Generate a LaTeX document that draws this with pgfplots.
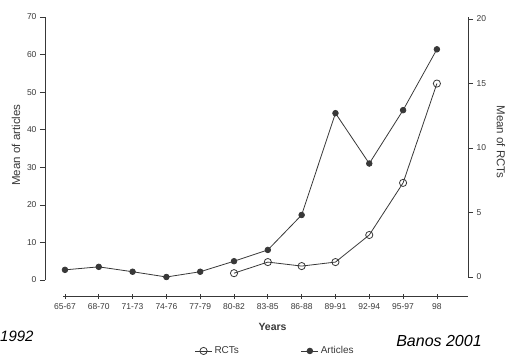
\documentclass[border=0pt]{standalone}
\usepackage{pgfplots}
\usepackage{pgfplotstable}
\pgfplotsset{compat=1.18}
\usepackage{fontspec}
\setmainfont{Liberation Sans}
\definecolor{ink}{gray}{0.22}
\pgfplotstableread{
x art
0 2.7
1 3.5
2 2.2
3 0.8
4 2.2
5 5.0
6 8.0
7 17.3
8 44.4
9 31.0
10 45.2
11 61.4
}\articles
\pgfplotstableread{
x rct
5 0.3
6 1.16
7 0.85
8 1.16
9 3.26
10 7.3
11 15.0
}\rcts
\begin{document}
\begin{tikzpicture}
\pgfplotsset{
  common/.style={
    at={(45pt,63pt)}, anchor=south west,
    scale only axis, width=423pt, height=279pt,
    xmin=-0.59, xmax=11.92,
    /pgf/number format/assume math mode=true,
    tick label style={font=\fontsize{8.5}{10}\selectfont, color=ink},
    label style={font=\fontsize{11.5}{13}\selectfont, color=ink},
    every tick/.style={ink, line width=0.7pt},
    major tick length=5pt,
  }
}
\begin{axis}[common,
  ymin=-4.26, ymax=70,
  axis x line*=bottom, axis y line*=left,
  x axis line style={shorten <=18pt, ink, line width=1pt},
  y axis line style={shorten <=16pt, ink, line width=1pt},
  xtick={0,...,11},
  xticklabels={65-67,68-70,71-73,74-76,77-79,80-82,83-85,86-88,89-91,92-94,95-97,98},
  x tick label style={yshift=-2pt},
  ytick={0,10,...,70},
  ytick align=outside, xtick align=center,
  ylabel={Mean of articles},
  ylabel style={at={(axis description cs:-0.0686,0.541)}, anchor=center, rotate=0},
  xlabel={Years},
  xlabel style={at={(axis description cs:0.538,-0.111)}, anchor=center, font=\fontsize{10.5}{12}\selectfont\bfseries, color=ink},
]
\addplot[ink, line width=0.8pt, mark=*, mark size=2.8pt, mark options={fill=ink}] table[x=x,y=art]{\articles};
\end{axis}
\begin{axis}[common,
  ymin=-1.47, ymax=20.16,
  axis x line=none, axis y line*=right,
  y axis line style={shorten <=19pt, ink, line width=1pt},
  ytick={0,5,...,20},
  ytick align=outside,
  ylabel={Mean of RCTs},
  ylabel style={at={(axis description cs:1.078,0.552)}, anchor=center, rotate=180},
  legend columns=2,
  legend style={draw=none, fill=none, at={(axis description cs:0.544,-0.197)}, anchor=center,
    font=\fontsize{10}{12}\selectfont, text=ink,
    /tikz/every even column/.append style={column sep=60pt}},
  legend cell align=left,
]
\addplot[ink, line width=0.8pt, mark=o, mark size=3.6pt, mark options={fill=white, line width=0.8pt}] table[x=x,y=rct]{\rcts};
\addlegendentry{RCTs}
\addlegendimage{ink, line width=0.8pt, mark=*, mark size=2.8pt, mark options={fill=ink}}
\addlegendentry{Articles}
\end{axis}
\node[anchor=west, inner sep=0pt, font=\fontsize{15}{17}\selectfont\itshape] at (0pt,23pt) {1992};
\node[anchor=center, font=\fontsize{16}{18}\selectfont\itshape] at (439pt,18pt) {Banos 2001};
\pgfresetboundingbox
\useasboundingbox (0,0) rectangle (506pt,359pt);
\end{tikzpicture}
\end{document}
